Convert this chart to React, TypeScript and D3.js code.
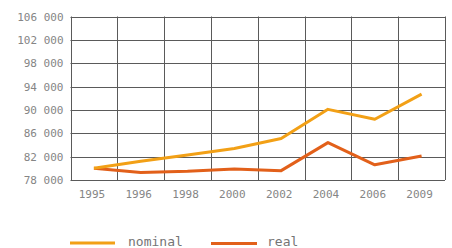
import React from "react";
import * as d3 from "d3";

const years = ["1995", "1996", "1998", "2000", "2002", "2004", "2006", "2009"];
const nominal = [80000, 81200, 82300, 83400, 85100, 90100, 88400, 92700];
const real = [80000, 79300, 79500, 79900, 79600, 84400, 80600, 82100];
const yTicks = [78000, 82000, 86000, 90000, 94000, 98000, 102000, 106000];

const W = 452;
const H = 248;
const left = 70.5;
const right = 445;
const top = 16.5;
const bottom = 180;

const fmt = (v: number) => {
  const s = String(v);
  return s.slice(0, s.length - 3) + "\u2009" + s.slice(s.length - 3);
};

export default function App() {
  const x = d3.scaleBand<string>().domain(years).range([left, right]);
  const y = d3.scaleLinear().domain([78000, 106000]).range([bottom, top]);
  const line = d3
    .line<number>()
    .x((_, i) => (x(years[i]) as number) + x.bandwidth() / 2)
    .y((d) => y(d));
  const bounds = years.map((yr) => x(yr) as number).concat([right]);
  const font = "'DejaVu Sans Mono', monospace";
  return (
    <svg
      width={W}
      height={H}
      style={{ position: "absolute", left: 0, top: 0, background: "#fff" }}
    >
      {yTicks.map((t) => (
        <g key={t}>
          <line x1={left} x2={right} y1={Math.round(y(t)) + 0.5} y2={Math.round(y(t)) + 0.5} stroke="#5a5a5a" strokeWidth={1} />
          <text x={63.5} y={y(t) + 4} textAnchor="end" fontFamily={font} fontSize={11} fill="#858585">
            {fmt(t)}
          </text>
        </g>
      ))}
      {bounds.map((b, i) => (
        <line key={i} x1={Math.round(b) + 0.5} x2={Math.round(b) + 0.5} y1={top} y2={bottom} stroke="#5a5a5a" strokeWidth={1} />
      ))}
      {years.map((yr) => (
        <text key={yr} x={(x(yr) as number) + x.bandwidth() / 2 - 2} y={198} textAnchor="middle" fontFamily={font} fontSize={11} fill="#858585">
          {yr}
        </text>
      ))}
      <path d={line(real) || ""} fill="none" stroke="#e2601a" strokeWidth={3} strokeLinejoin="round" />
      <path d={line(nominal) || ""} fill="none" stroke="#f2a016" strokeWidth={3} strokeLinejoin="round" />
      <line x1={70} x2={115} y1={243} y2={243} stroke="#f2a016" strokeWidth={3} />
      <text x={128} y={246} fontFamily={font} fontSize={13} fill="#757575">nominal</text>
      <line x1={211} x2={257} y1={243.5} y2={243.5} stroke="#e2601a" strokeWidth={3} />
      <text x={267} y={246} fontFamily={font} fontSize={13} fill="#757575">real</text>
    </svg>
  );
}
